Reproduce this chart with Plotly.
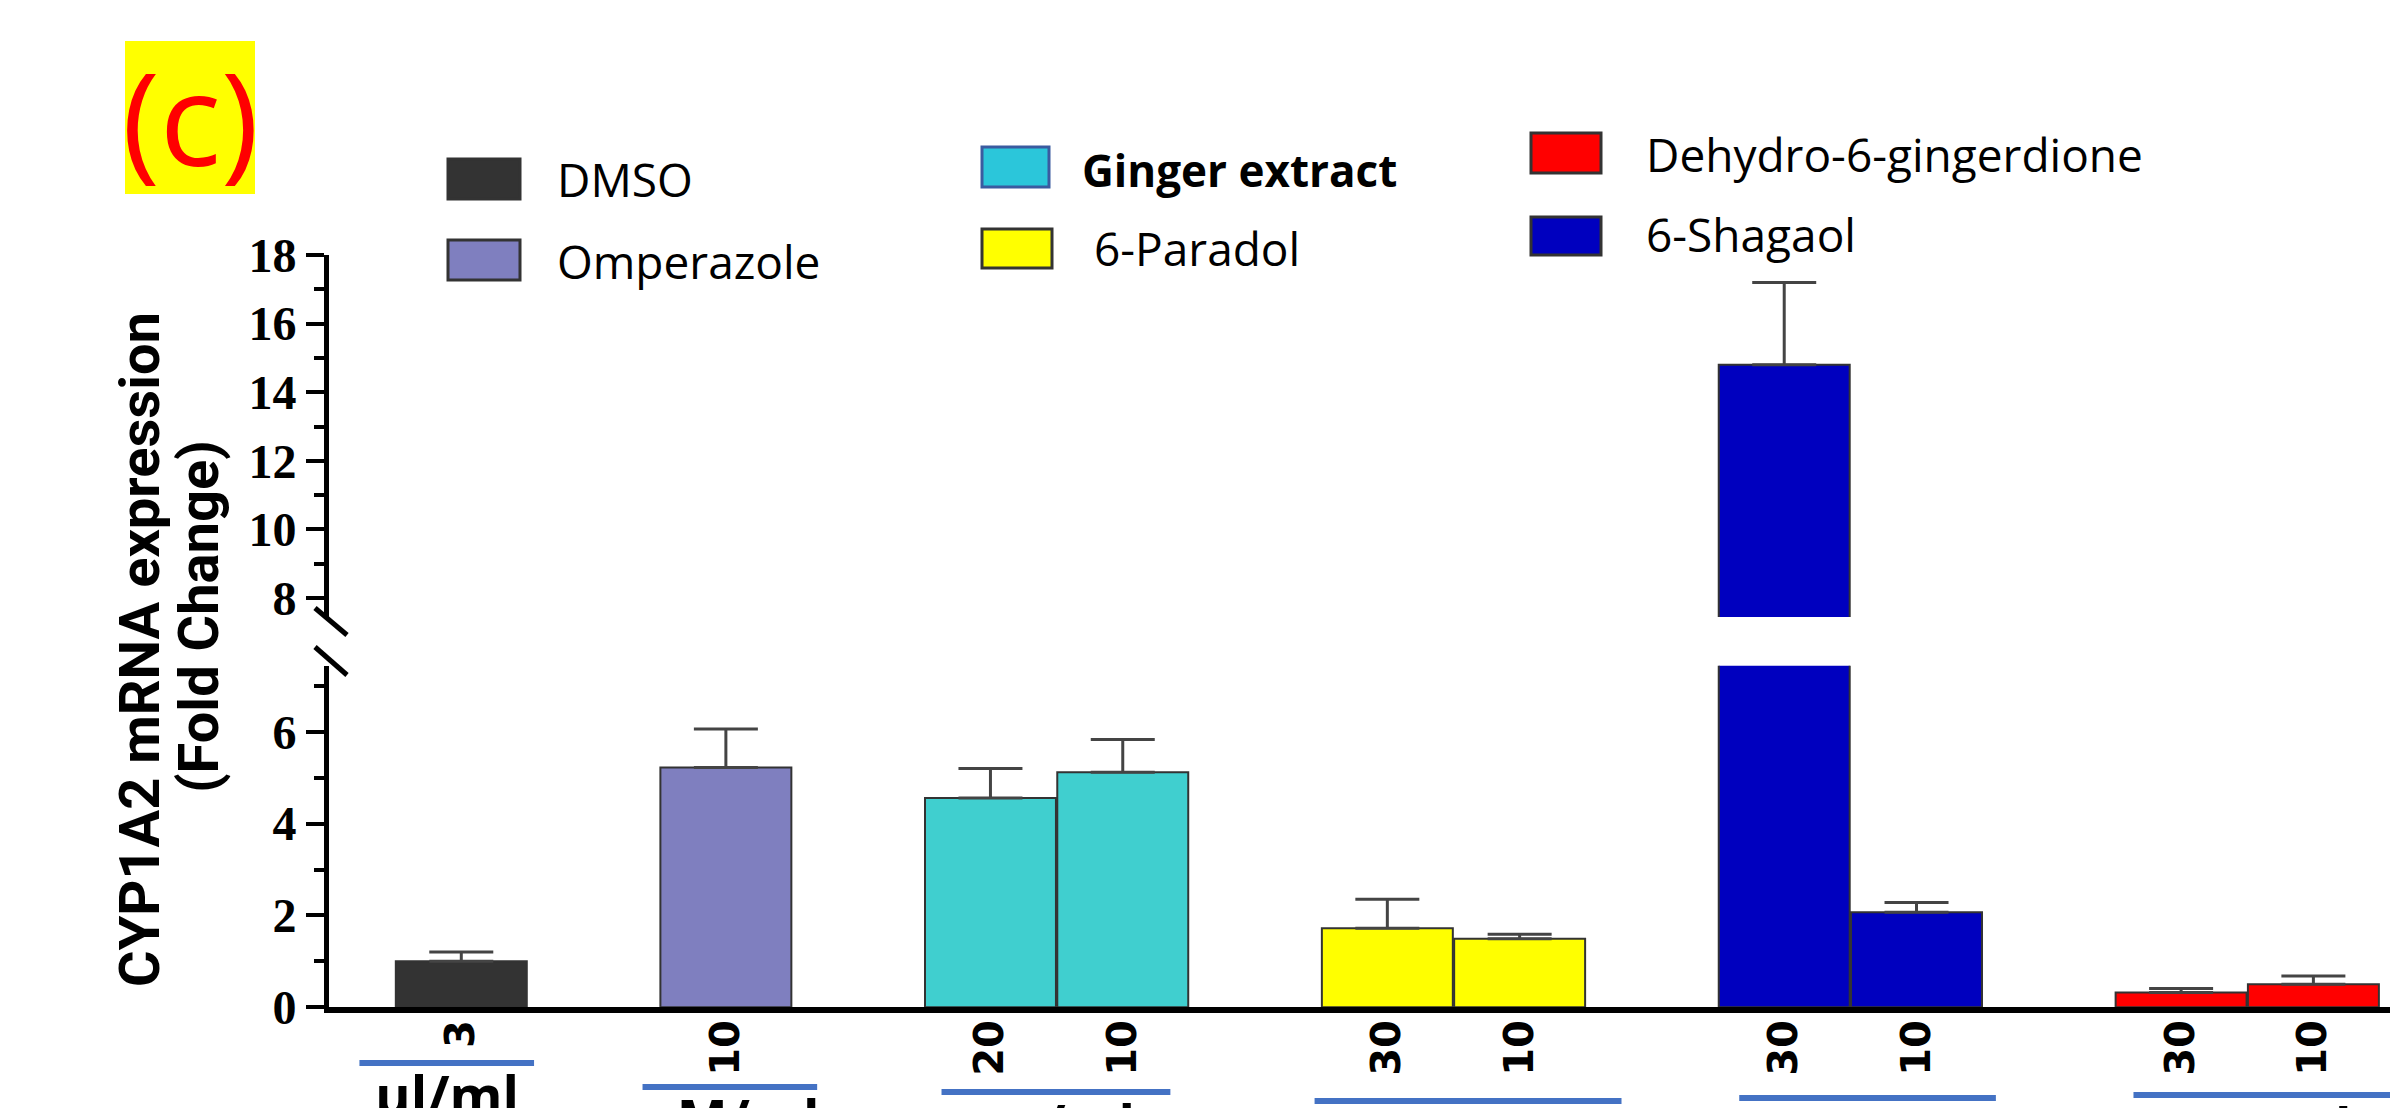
import plotly.graph_objects as go

# ---------------- data ----------------
groups = ["DMSO", "Omperazole", "Ginger extract", "6-Paradol", "6-Shagaol", "Dehydro-6-gingerdione"]
doses = [["3"], ["10"], ["20", "10"], ["30", "10"], ["30", "10"], ["30", "10"]]
means = [[1.00], [5.22], [4.56, 5.12], [1.72, 1.49], [14.80, 2.07], [0.32, 0.50]]
sems = [[0.20], [0.84], [0.64, 0.71], [0.63, 0.10], [2.40, 0.21], [0.09, 0.18]]
units = ["µl/ml", "µM/ml", "µg/ml", "µM/ml", "µM/ml", "µM/ml"]
colors = ["#333333", "#7F7FBF", "#40CFCF", "#FFFF00", "#0000BF", "#FF0000"]

# ---------------- layout helpers ----------------
W, H = 2398, 1108
OFF = 8  # page body margin
def py(p):  # screen pixel y -> paper y
    return 1 - (p - OFF) / H
def px(p):
    return (p - OFF) / W

# bar positions: single-dose groups spaced by 2 slots, paired groups one slot gap
positions = []
pos = 0
for gi, d in enumerate(doses):
    xs = []
    for k in range(len(d)):
        xs.append(pos)
        pos += 1
    positions.append(xs)
    pos += 1

fig = go.Figure()
for gi, g in enumerate(groups):
    for (xa, ya) in (("x", "y"), ("x2", "y2")):
        fig.add_trace(go.Bar(
            x=positions[gi], y=means[gi], width=0.99,
            marker=dict(color=colors[gi], line=dict(color="#333333", width=2)),
            error_y=dict(type="data", array=sems[gi], symmetric=False,
                         arrayminus=[0] * len(sems[gi]),
                         color="#444444", thickness=3, width=32),
            xaxis=xa, yaxis=ya, showlegend=False, name=g,
        ))

tickvals = [x for xs in positions for x in xs]
ticktext = [t for d in doses for t in d]

x_dom = [px(329), 1.0]
xr = [-1.0, 14.70]
lower_dom = [py(1007.2), py(665.7)]
upper_dom = [py(616.9), py(255)]

ytickfont = dict(family="Liberation Serif", size=48, color="black", weight="bold")
yaxis_common = dict(showline=True, linewidth=5, linecolor="black", ticks="outside",
                    ticklen=18, tickwidth=4, tickcolor="black", showgrid=False,
                    zeroline=False, tickfont=ytickfont, automargin=False,
                    minor=dict(dtick=1, ticks="outside", ticklen=10, tickwidth=4,
                               tickcolor="black", showgrid=False))

fig.update_layout(
    width=W, height=H,
    margin=dict(l=0, r=0, t=0, b=0, pad=0, autoexpand=False),
    paper_bgcolor="white", plot_bgcolor="white",
    barmode="overlay",
    xaxis=dict(domain=x_dom, range=xr, anchor="y", showline=True, linewidth=6,
               linecolor="black", showgrid=False, zeroline=False, automargin=False,
               tickmode="array", tickvals=tickvals, ticktext=ticktext,
               tickangle=-90, ticks="", ticklabelstandoff=-9,
               tickfont=dict(family="DejaVu Sans", size=40, color="black", weight="bold")),
    xaxis2=dict(domain=x_dom, range=xr, anchor="y2", matches="x", visible=False,
                automargin=False),
    yaxis=dict(domain=lower_dom, range=[0, 7.44], anchor="x", tick0=0, dtick=2, **yaxis_common),
    yaxis2=dict(domain=upper_dom, range=[7.45, 18], anchor="x2", tick0=8, dtick=2, **yaxis_common),
)

shapes = []
# axis break slashes
for (x0, y0, x1, y1) in [(315, 608, 347, 635), (315, 647, 347, 675)]:
    shapes.append(dict(type="line", xref="paper", yref="paper",
                       x0=px(x0), y0=py(y0), x1=px(x1), y1=py(y1),
                       line=dict(color="black", width=5)))

# group underline bars and unit labels (the labels run off the bottom edge, as in the source)
under = [(-0.77, 0.55, 1063), (1.37, 2.69, 1087), (3.63, 5.36, 1092),
         (6.45, 8.77, 1101), (9.66, 11.6, 1098), (12.64, 14.59, 1095)]
annotations = []
for gi, (a, b, yy) in enumerate(under):
    shapes.append(dict(type="line", xref="x", yref="paper", x0=a, x1=b,
                       y0=py(yy), y1=py(yy), line=dict(color="#4472C4", width=6)))
    annotations.append(dict(xref="x", yref="paper", x=(a + b) / 2, y=py(yy - 8),
                            text=units[gi], showarrow=False, yanchor="top", xanchor="center",
                            font=dict(family="Open Sans", size=54, color="black", weight="bold")))

# "(c)" panel label
shapes.append(dict(type="rect", xref="paper", yref="paper", x0=px(125), x1=px(255),
                   y0=py(194), y1=py(41), fillcolor="#FFFF00", line=dict(width=0), layer="below"))
annotations.append(dict(xref="paper", yref="paper", x=px(190), y=py(116), text="(c)",
                        showarrow=False, xanchor="center", yanchor="middle",
                        font=dict(family="Open Sans", size=128, color="#FF0000")))

# custom legend (3 columns x 2 rows)
legend_items = [
    (0, 448, 520, 159, 199, 555, 179, "#333333", "#333333", False),
    (1, 448, 520, 240, 280, 555, 261, "#7F7FBF", "#333333", False),
    (2, 982, 1049, 147, 187, 1080, 170, "#2BC6DA", "#3A5BA0", True),
    (3, 982, 1052, 229, 268, 1092, 248, "#FFFF00", "#333333", False),
    (5, 1531, 1601, 133, 173, 1644, 154, "#FF0000", "#333333", False),
    (4, 1531, 1601, 217, 255, 1644, 234, "#0000BF", "#333333", False),
]
for gi, x0, x1, y0, y1, tx, ty, fc, lc, bold in legend_items:
    shapes.append(dict(type="rect", xref="paper", yref="paper", x0=px(x0), x1=px(x1),
                       y0=py(y1), y1=py(y0), fillcolor=fc, line=dict(color=lc, width=3)))
    annotations.append(dict(xref="paper", yref="paper", x=px(tx), y=py(ty), text=groups[gi],
                            showarrow=False, xanchor="left", yanchor="middle",
                            font=dict(family="Open Sans", size=44 if bold else 46, color="black",
                                      weight="bold" if bold else "normal")))

# y-axis title (two lines)
title_font = dict(family="Roboto", size=56, color="black", weight="bold")
annotations.append(dict(xref="paper", yref="paper", x=px(140), y=py(650),
                        text="CYP1A2 mRNA expression", textangle=-90, showarrow=False,
                        xanchor="center", yanchor="middle", font=title_font))
annotations.append(dict(xref="paper", yref="paper", x=px(199), y=py(617),
                        text="(Fold Change)", textangle=-90, showarrow=False,
                        xanchor="center", yanchor="middle", font=title_font))

fig.update_layout(shapes=shapes, annotations=annotations)
fig.write_html("out.html")
